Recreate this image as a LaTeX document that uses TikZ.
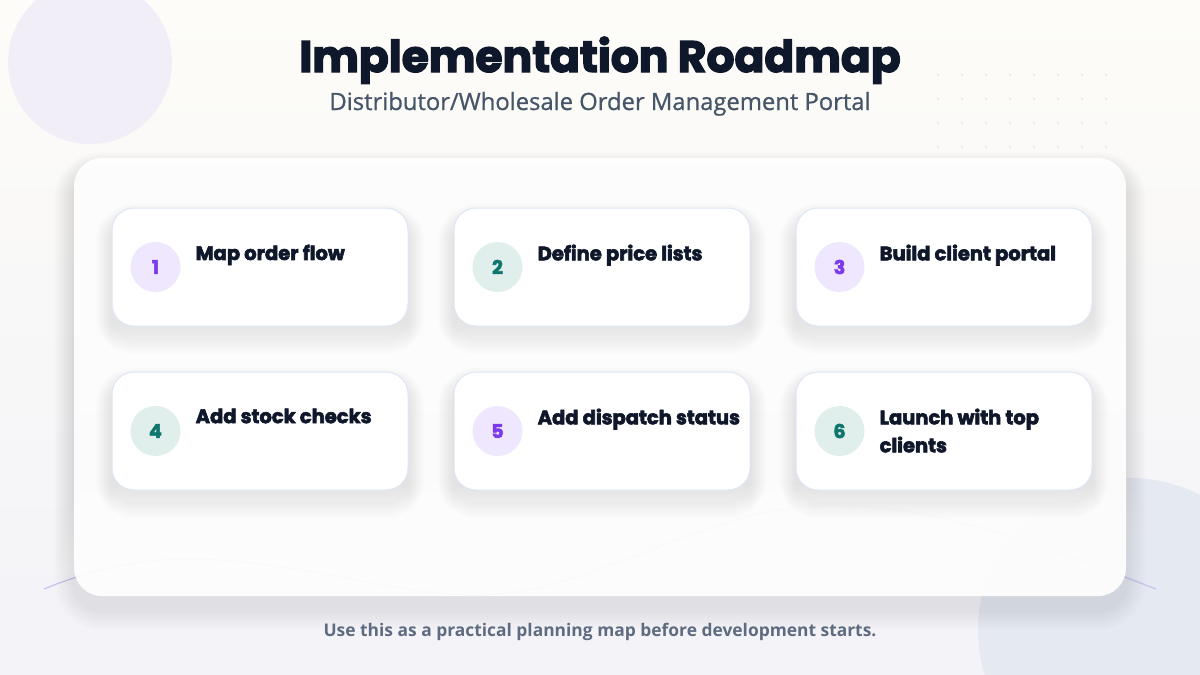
\documentclass[tikz,border=0pt]{standalone}
\usepackage{fontspec}
\setmainfont{Open Sans}
\newfontfamily\headfont{Poppins}[FakeBold=3]
\newfontfamily\subfont{Open Sans}[FakeBold=0.8]

\definecolor{ink}{HTML}{0F172A}
\definecolor{slate}{HTML}{475569}
\definecolor{muted}{HTML}{5E6B80}
\definecolor{bgtop}{HTML}{FDFCF8}
\definecolor{bgbot}{HTML}{F3F3F8}
\definecolor{blobA}{HTML}{F2EEF8}
\definecolor{blobB}{HTML}{E4E9F2}
\definecolor{dotc}{HTML}{E6EAF0}
\definecolor{wave}{HTML}{C9C2EE}
\definecolor{cardline}{HTML}{DDE6F4}
\definecolor{lilac}{HTML}{EFE7FD}
\definecolor{violet}{HTML}{7C3AED}
\definecolor{mint}{HTML}{E1EFEC}
\definecolor{teal}{HTML}{0F766E}
\definecolor{shade}{HTML}{1E2A4A}

\begin{document}
\begin{tikzpicture}[x=1pt, y=-1pt,
    card/.style = {draw=cardline, line width=1pt, fill=white, rounded corners=22pt,
        minimum width=296pt, minimum height=118pt},
    badge/.style = {circle, minimum size=50pt, inner sep=0pt, font=\headfont\bfseries\fontsize{19}{19}\selectfont},
    odd/.style = {badge, fill=lilac, text=violet},
    even/.style = {badge, fill=mint, text=teal},
    steptext/.style = {anchor=north west, inner sep=0pt, align=left, text=ink,
        font=\headfont\bfseries\fontsize{19.5}{28}\selectfont}]
    \useasboundingbox (0,0) rectangle (1200,675);

    % Background
    \fill[top color=bgtop, bottom color=bgbot] (0,0) rectangle (1200,675);
    \fill[blobA] (90,62) circle (82);
    \fill[blobB] (1130,630) circle (152);
    \foreach \i in {0,...,7}
        \foreach \j in {0,...,3}
            \fill[dotc] (938+24*\i, 75+24*\j) circle (1.5);
    \draw[wave, line width=1.2pt] (44,589) .. controls (100,566) and (150,558) .. (195,559)
        .. controls (300,561) and (400,596) .. (477,595)
        .. controls (600,594) and (700,505) .. (832,505)
        .. controls (950,505) and (1080,560) .. (1156,589);

    % Panel
    \foreach \k in {1,...,10}
        \fill[shade, opacity=0.008, rounded corners=28+2*\k] (74-2*\k,158-2*\k+14) rectangle (1126+2*\k,596+2*\k+14);
    \node[fill=white, fill opacity=0.92, rounded corners=28pt, minimum width=1052pt, minimum height=438pt]
        (panel) at (600,377) {};

    % Title
    \node[text=ink, font=\headfont\bfseries\fontsize{44}{44}\selectfont, anchor=base] (title) at (600,72) {Implementation Roadmap};
    \node[text=slate, font=\subfont\fontsize{23.8}{23.8}\selectfont, anchor=base] (subtitle) at (600,110) {Distributor/Wholesale Order Management Portal};

    % Cards
    \foreach \cx/\cy in {260/267, 602/267, 944/267, 260/431, 602/431, 944/431}
        \foreach \k in {1,...,8}
            \fill[shade, opacity=0.006, rounded corners=22+2*\k] (\cx-148-2*\k,\cy-59-2*\k+12) rectangle (\cx+148+2*\k,\cy+59+2*\k+12);
    \node[card] (card1) at (260,267) {};
    \node[card] (card2) at (602,267) {};
    \node[card] (card3) at (944,267) {};
    \node[card] (card4) at (260,431) {};
    \node[card] (card5) at (602,431) {};
    \node[card] (card6) at (944,431) {};

    \node[odd]  (num1) at ([xshift=44pt]card1.west) {1};
    \node[even] (num2) at ([xshift=44pt]card2.west) {2};
    \node[odd]  (num3) at ([xshift=44pt]card3.west) {3};
    \node[even] (num4) at ([xshift=44pt]card4.west) {4};
    \node[odd]  (num5) at ([xshift=44pt]card5.west) {5};
    \node[even] (num6) at ([xshift=44pt]card6.west) {6};

    \node[steptext] (step1) at ([xshift=84pt, yshift=-37pt]card1.north west) {Map order flow};
    \node[steptext] (step2) at ([xshift=84pt, yshift=-37pt]card2.north west) {Define price lists};
    \node[steptext] (step3) at ([xshift=84pt, yshift=-37pt]card3.north west) {Build client portal};
    \node[steptext] (step4) at ([xshift=84pt, yshift=-37pt]card4.north west) {Add stock checks};
    \node[steptext] (step5) at ([xshift=84pt, yshift=-37pt]card5.north west) {Add dispatch status};
    \node[steptext] (step6) at ([xshift=84pt, yshift=-37pt]card6.north west) {Launch with top\\clients};

    % Footer
    \node[text=muted, font=\bfseries\fontsize{17.4}{17.4}\selectfont, anchor=base] (footer) at (600,636) {Use this as a practical planning map before development starts.};
\end{tikzpicture}
\end{document}
